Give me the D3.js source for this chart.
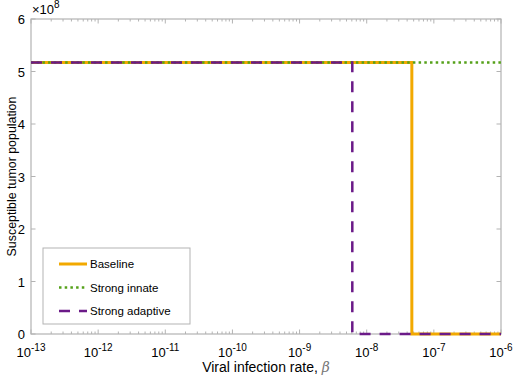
<!DOCTYPE html>
<html>
<head>
<meta charset="utf-8">
<script src="https://cdn.jsdelivr.net/npm/d3@7"></script>
<style>
  body { margin: 0; background: #fff; }
  text { font-family: "Liberation Sans", Arial, sans-serif; }
</style>
</head>
<body>
<div id="chart"></div>
<script>
// data
const betaBaseline = [1e-13, 4.7e-8, 4.7e-8, 1e-6];
const popBaseline = [5.17, 5.17, 0, 0];
const betaInnate = [1e-13, 1e-6];
const popInnate = [5.17, 5.17];
const betaAdaptive = [1e-13, 6.1e-9, 6.1e-9, 1e-6];
const popAdaptive = [5.17, 5.17, 0, 0];
const xTickExps = [-13, -12, -11, -10, -9, -8, -7, -6];
const yTicks = [0, 1, 2, 3, 4, 5, 6];

const series = [
    {name: "Baseline", beta: betaBaseline, pop: popBaseline, color: "#F2A900", width: 3, dash: null},
    {name: "Strong innate", beta: betaInnate, pop: popInnate, color: "#55A11A", width: 2.5, dash: "2.5,3.2"},
    {name: "Strong adaptive", beta: betaAdaptive, pop: popAdaptive, color: "#6B1A88", width: 2.5, dash: "11,9"}
];

const W = 514, H = 379;
const M = {top: 19, right: 13, bottom: 45, left: 31};
const width = W - M.left - M.right;
const height = H - M.top - M.bottom;
const axisColor = "#b3b3b3";

const svg = d3.select("#chart").append("svg")
    .attr("width", W)
    .attr("height", H);

const node = svg.append("g")
    .attr("transform", "translate(" + M.left + "," + M.top + ")");

const x = d3.scaleLog()
    .domain([1e-13, 1e-6])
    .range([0, width]);

const y = d3.scaleLinear()
    .domain([0, 6])
    .range([height, 0]);

// frame
node.append("rect")
    .attr("width", width)
    .attr("height", height)
    .attr("fill", "none")
    .attr("stroke", axisColor)
    .attr("stroke-width", 1.2);

// minor + major ticks for log axis, MATLAB style (inward, top and bottom)
const minor = [];
for (let e = -13; e < -6; e++) {
    for (let m = 2; m <= 9; m++) minor.push(m * Math.pow(10, e));
}
const majors = xTickExps.map(e => Math.pow(10, e));

const ticks = node.append("g").attr("id", "ticks").attr("stroke", axisColor).attr("stroke-width", 1);
minor.forEach(v => {
    ticks.append("line").attr("x1", x(v)).attr("x2", x(v)).attr("y1", height).attr("y2", height - 2.5);
    ticks.append("line").attr("x1", x(v)).attr("x2", x(v)).attr("y1", 0).attr("y2", 2.5);
});
majors.forEach(v => {
    ticks.append("line").attr("x1", x(v)).attr("x2", x(v)).attr("y1", height).attr("y2", height - 4.5);
    ticks.append("line").attr("x1", x(v)).attr("x2", x(v)).attr("y1", 0).attr("y2", 4.5);
});
yTicks.forEach(v => {
    ticks.append("line").attr("x1", 0).attr("x2", 4.5).attr("y1", y(v)).attr("y2", y(v));
    ticks.append("line").attr("x1", width).attr("x2", width - 4.5).attr("y1", y(v)).attr("y2", y(v));
});

// lines
const line = d3.line()
    .x(d => x(d[0]))
    .y(d => y(d[1]));

series.forEach(s => {
    node.append("path")
        .datum(s.beta.map((b, i) => [b, s.pop[i]]))
        .attr("id", s.name)
        .attr("fill", "none")
        .attr("stroke", s.color)
        .attr("stroke-width", s.width)
        .attr("stroke-dasharray", s.dash)
        .attr("d", line);
});

// tick labels
const xl = node.append("g").attr("font-size", 13).attr("fill", "#000");
xTickExps.forEach(e => {
    const t = xl.append("text")
        .attr("x", x(Math.pow(10, e)))
        .attr("y", height + 23)
        .attr("text-anchor", "middle");
    t.append("tspan").text("10");
    t.append("tspan").attr("dy", -6).attr("font-size", 10).text("-" + Math.abs(e));
});

node.append("g").selectAll("text")
    .data(yTicks)
    .enter().append("text")
    .attr("x", -6)
    .attr("y", d => y(d) + 5)
    .attr("text-anchor", "end")
    .attr("font-size", 13)
    .text(d => d);

// exponent
const ex = node.append("text").attr("x", 1).attr("y", -5).attr("font-size", 13);
ex.append("tspan").text("\u00d710");
ex.append("tspan").attr("dy", -6).attr("font-size", 10).text("8");

// axis labels
const xlab = svg.append("text")
    .attr("x", M.left + width / 2)
    .attr("y", 372)
    .attr("text-anchor", "middle")
    .attr("font-size", 14);
xlab.append("tspan").text("Viral infection rate, ");
xlab.append("tspan").attr("font-style", "italic").attr("fill", "#777").attr("font-family", "DejaVu Serif").text("\u03b2");

svg.append("text")
    .attr("transform", "translate(15.5," + (M.top + height / 2) + ") rotate(-90)")
    .attr("text-anchor", "middle")
    .attr("font-size", 12.4)
    .text("Susceptible tumor population");

// legend
const lg = svg.append("g").attr("id", "legend");
lg.append("rect")
    .attr("x", 43).attr("y", 248)
    .attr("width", 147).attr("height", 76)
    .attr("fill", "#fff")
    .attr("stroke", axisColor)
    .attr("stroke-width", 1);
series.forEach((s, i) => {
    const ly = 264 + i * 23.5;
    lg.append("line")
        .attr("x1", 59).attr("x2", 87)
        .attr("y1", ly).attr("y2", ly)
        .attr("stroke", s.color)
        .attr("stroke-width", s.width)
        .attr("stroke-dasharray", s.dash);
    lg.append("text")
        .attr("x", 90).attr("y", ly + 4)
        .attr("font-size", 11.5)
        .text(s.name);
});
</script>
</body>
</html>
